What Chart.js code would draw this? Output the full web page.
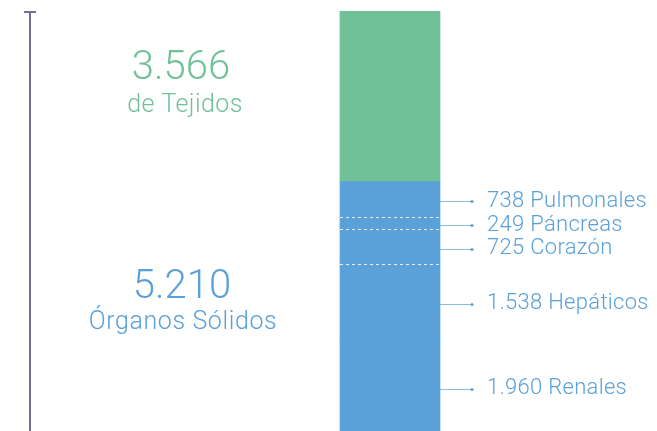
<!DOCTYPE html>
<html><head><meta charset="utf-8">
<script src="https://cdn.jsdelivr.net/npm/chart.js@4/dist/chart.umd.min.js"></script>
<style>html,body{margin:0;padding:0;background:#fff}#wrap{width:657px;height:431px;position:relative}</style>
</head><body><div id="wrap"><canvas id="c" width="657" height="431"></canvas></div>
<script>
const categories = [''];
const organLabels = ['Renales', 'Hepáticos', 'Corazón', 'Páncreas', 'Pulmonales'];
const organValues = [1960, 1538, 725, 249, 738];
const tissueLabel = 'de Tejidos';
const tissueValue = 3566;
const organTotalLabel = 'Órganos Sólidos';
const organTotalValue = 5210;
const valueText = ['1.960', '1.538', '725', '249', '738'];
const tissueText = '3.566';
const organTotalText = '5.210';

const BLUE = '#5aa0d9';
const GREEN = '#70c098';
const AXIS = '#6e7299';
const FONT = 'Roboto, "Liberation Sans", sans-serif';

const datasets = organLabels.map((l, i) => ({
  label: l, data: [organValues[i]], backgroundColor: BLUE, borderWidth: 0, barThickness: 100, stack: 's'
}));
datasets.push({label: tissueLabel, data: [tissueValue], backgroundColor: GREEN, borderWidth: 0, barThickness: 100, stack: 's'});

const total = organValues.reduce((a, b) => a + b, 0) + tissueValue;

const deco = {
  id: 'deco',
  afterDatasetsDraw(chart) {
    const ctx = chart.ctx, y = chart.scales.y;
    const meta = chart.getDatasetMeta(0).data[0];
    const left = meta.x - meta.width / 2, right = meta.x + meta.width / 2;
    const bottom = y.getPixelForValue(0);
    const organTop = y.getPixelForValue(organTotalValue);
    ctx.save();
    ctx.strokeStyle = AXIS; ctx.lineWidth = 2;
    ctx.beginPath(); ctx.moveTo(30, y.getPixelForValue(total)); ctx.lineTo(30, bottom); ctx.stroke();
    ctx.beginPath(); ctx.moveTo(24, y.getPixelForValue(total) + 1); ctx.lineTo(36, y.getPixelForValue(total) + 1); ctx.stroke();
    ctx.strokeStyle = 'rgba(255,255,255,0.85)'; ctx.lineWidth = 1; ctx.setLineDash([3, 3]);
    let cum = 0;
    for (let i = 0; i < organValues.length - 1; i++) {
      cum += organValues[i];
      if (i >= 1) {
        const py = Math.round(y.getPixelForValue(cum)) + 0.5;
        ctx.beginPath(); ctx.moveTo(left, py); ctx.lineTo(right, py); ctx.stroke();
      }
    }
    ctx.setLineDash([]);
    cum = 0;
    ctx.font = '300 22px ' + FONT; ctx.textBaseline = 'middle'; ctx.textAlign = 'left';
    ctx.letterSpacing = '0.3px';
    for (let i = 0; i < organValues.length; i++) {
      const mid = y.getPixelForValue(cum + organValues[i] / 2);
      cum += organValues[i];
      // labels sit slightly below segment centres, more so near the base
      const ly = mid + 1.5 + 4 * (mid - organTop) / (bottom - organTop);
      const py = Math.round(ly) + 0.5;
      ctx.strokeStyle = 'rgba(90,160,217,0.7)'; ctx.lineWidth = 1;
      ctx.beginPath(); ctx.moveTo(right, py); ctx.lineTo(472, py); ctx.stroke();
      ctx.fillStyle = BLUE;
      ctx.beginPath(); ctx.arc(472, py, 1.5, 0, Math.PI * 2); ctx.fill();
      ctx.fillText(valueText[i] + ' ' + organLabels[i], 487, ly);
    }
    ctx.textAlign = 'center'; ctx.textBaseline = 'alphabetic';
    ctx.letterSpacing = '0px';
    ctx.fillStyle = GREEN;
    ctx.font = '300 40px ' + FONT; ctx.fillText(tissueText, 181, 79);
    ctx.letterSpacing = '0.4px';
    ctx.font = '300 25px ' + FONT; ctx.fillText(tissueLabel, 185, 112);
    ctx.fillStyle = BLUE;
    ctx.letterSpacing = '0px';
    ctx.font = '300 40px ' + FONT; ctx.fillText(organTotalText, 182, 298);
    ctx.letterSpacing = '0.6px';
    ctx.font = '300 25px ' + FONT; ctx.fillText(organTotalLabel, 183, 329);
    ctx.restore();
  }
};

new Chart(document.getElementById('c'), {
  type: 'bar',
  data: {labels: categories, datasets},
  options: {
    responsive: false, animation: false,
    layout: {padding: {left: 280, right: 157, top: 11, bottom: 0}},
    plugins: {legend: {display: false}, tooltip: {enabled: false}},
    scales: {
      x: {display: false, stacked: true},
      y: {display: false, stacked: true, min: 0, max: total}
    }
  },
  plugins: [deco]
});
</script></body></html>
